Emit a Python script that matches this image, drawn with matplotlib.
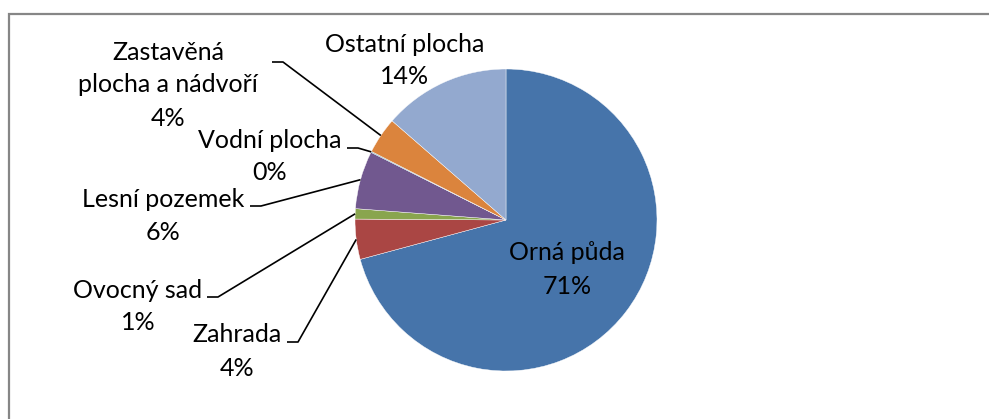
import numpy as np
import matplotlib
matplotlib.use("Agg")
import matplotlib.pyplot as plt

categories = ["Orná půda", "Zahrada", "Ovocný sad", "Lesní pozemek",
              "Vodní plocha", "Zastavěná\nplocha a nádvoří", "Ostatní plocha"]
values = [70.8, 4.3, 1.1, 6.2, 0.1, 3.9, 13.6]
pct_labels = ["71%", "4%", "1%", "6%", "0%", "4%", "14%"]
colors = ["#4674AA", "#AA4644", "#89A54E", "#71588F", "#4198AF", "#DB843D", "#93A9CF"]

W, H = 989, 419
fig = plt.figure(figsize=(W / 100, H / 100), dpi=100)
ax = fig.add_axes([0, 0, 1, 1])

def Y(y):
    return H - y

cx, cy, R = 506, Y(220), 151
wedges, _ = ax.pie(values, colors=colors, startangle=90, counterclock=False,
                   center=(cx, cy), radius=R, frame=True,
                   wedgeprops=dict(edgecolor="white", linewidth=0.3))
ax.set_xlim(0, W)
ax.set_ylim(0, H)
ax.set_aspect("equal")
ax.axis("off")

plt.rcParams['font.family'] = ['Lato', 'DejaVu Sans']
fs = 18

# label centres (x, y of first line) in pixel coordinates, plus leader start
label_pos = {
    0: (567, 253, None),
    1: (237, 335, (287, 342)),
    2: (138, 290, (207, 297)),
    3: (163, 200, (250, 206)),
    4: (270, 140, (347, 148)),
    5: (168, 52, (272, 62)),
    6: (405, 44, None),
}
lh = 33
for i, w in enumerate(wedges):
    x, y, lead = label_pos[i]
    lines = categories[i].split("\n") + [pct_labels[i]]
    for k, t in enumerate(lines):
        ax.text(x, Y(y + k * lh), t, ha="center", va="center", fontsize=fs,
                color="black")
    if lead is not None:
        mid = np.deg2rad((w.theta1 + w.theta2) / 2)
        ex = cx + R * np.cos(mid)
        ey = cy + R * np.sin(mid)
        ax.plot([lead[0], lead[0] + 11, ex], [Y(lead[1]), Y(lead[1]), ey],
                color="black", lw=1.2, solid_capstyle="butt")

# outer frame
ax.plot([8.5, 8.5, W], [0, Y(14.5), Y(14.5)], color="#868686", lw=1.6,
        solid_joinstyle="miter")

fig.savefig("out.png", dpi=100)
